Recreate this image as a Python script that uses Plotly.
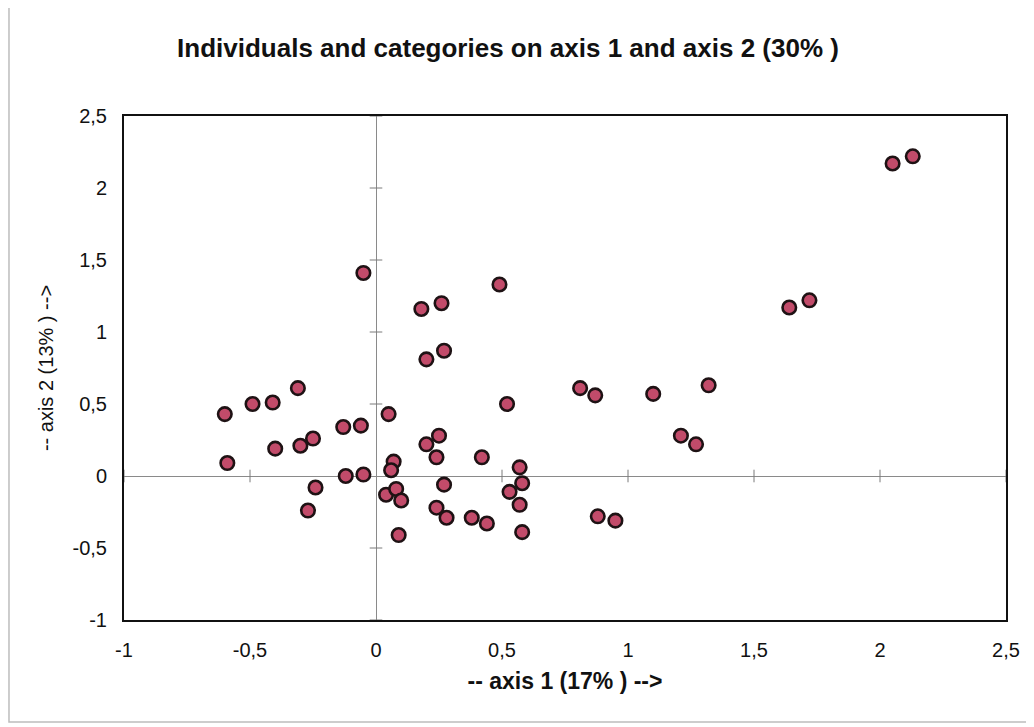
import plotly.graph_objects as go

# --- data ---
axis1 = [2.05, 2.13, -0.05, 0.18, 0.26, 0.49, 1.64, 1.72, 0.20, 0.27,
         -0.31, -0.41, -0.49, -0.60, 0.05, -0.06, -0.13, -0.25, -0.30, -0.40,
         -0.59, 0.52, 0.81, 0.87, 1.10, 1.32, 1.21, 1.27, 0.20, 0.25,
         0.24, 0.42, 0.07, 0.06, -0.12, -0.05, 0.57, 0.58, 0.53, 0.57,
         0.27, 0.04, 0.08, 0.10, -0.24, -0.27, 0.24, 0.28, 0.38, 0.44,
         0.58, 0.09, 0.88, 0.95]
axis2 = [2.17, 2.22, 1.41, 1.16, 1.20, 1.33, 1.17, 1.22, 0.81, 0.87,
         0.61, 0.51, 0.50, 0.43, 0.43, 0.35, 0.34, 0.26, 0.21, 0.19,
         0.09, 0.50, 0.61, 0.56, 0.57, 0.63, 0.28, 0.22, 0.22, 0.28,
         0.13, 0.13, 0.10, 0.04, 0.00, 0.01, 0.06, -0.05, -0.11, -0.20,
         -0.06, -0.13, -0.09, -0.17, -0.08, -0.24, -0.22, -0.29, -0.29, -0.33,
         -0.39, -0.41, -0.28, -0.31]

x_ticks = [-1, -0.5, 0, 0.5, 1, 1.5, 2, 2.5]
y_ticks = [-1, -0.5, 0, 0.5, 1, 1.5, 2, 2.5]
tick_labels = ["-1", "-0,5", "0", "0,5", "1", "1,5", "2", "2,5"]

title_text = "Individuals and categories on axis 1 and axis 2 (30% )"
x_title = "-- axis 1 (17% ) -->"
y_title = "-- axis 2 (13% ) -->"

FONT = "Liberation Sans, Arial, sans-serif"
INK = "#111111"

fig = go.Figure()

# tick marks drawn on the zero lines (Excel style crossing axes)
fig.add_trace(go.Scatter(
    x=[t for t in x_ticks if t != 0], y=[0] * (len(x_ticks) - 1),
    mode="markers", hoverinfo="skip", showlegend=False,
    marker=dict(symbol="line-ns", size=9, line=dict(color="#7a7a7a", width=1)),
))
fig.add_trace(go.Scatter(
    x=[0] * (len(y_ticks) - 1), y=[t for t in y_ticks if t != 0],
    mode="markers", hoverinfo="skip", showlegend=False,
    marker=dict(symbol="line-ew", size=9, line=dict(color="#7a7a7a", width=1)),
))

fig.add_trace(go.Scatter(
    x=axis1, y=axis2, mode="markers", showlegend=False,
    marker=dict(size=13.5, color="#c24b6a",
                line=dict(color="#1e1214", width=2.6)),
))

# the page has an 8px body margin, so the figure is sized to fill the rest
fig.update_layout(
    width=1026, height=719,
    paper_bgcolor="white", plot_bgcolor="white",
    margin=dict(l=116, r=28, t=108, b=107),
    font=dict(family=FONT, size=20, color=INK),
    title=dict(text="<b>" + title_text + "</b>", x=500 / 1026, xanchor="center",
               y=1 - 40 / 719, yanchor="middle",
               font=dict(family=FONT, size=26, color=INK)),
    showlegend=False,
    shapes=[dict(type="rect", xref="paper", yref="paper",
                 x0=-0.1304, x1=1.0238, y0=-0.2024, y1=1.2202,
                 line=dict(color="#bdbdbd", width=1.5), layer="below")],
)

fig.update_xaxes(
    range=[-1, 2.5], tickvals=x_ticks, ticktext=tick_labels,
    showgrid=False, zeroline=True, zerolinecolor="#8a8a8a", zerolinewidth=1,
    showline=True, mirror=True, linecolor=INK, linewidth=2,
    ticks="", ticklabelstandoff=11,
    tickfont=dict(family=FONT, size=20, color=INK),
    title=dict(text="<b>" + x_title + "</b>", standoff=13,
               font=dict(family=FONT, size=23, color=INK)),
)
fig.update_yaxes(
    range=[-1, 2.5], tickvals=y_ticks, ticktext=tick_labels,
    showgrid=False, zeroline=True, zerolinecolor="#8a8a8a", zerolinewidth=1,
    showline=True, mirror=True, linecolor=INK, linewidth=2,
    ticks="", ticklabelstandoff=11,
    tickfont=dict(family=FONT, size=20, color=INK),
    title=dict(text=y_title, standoff=14,
               font=dict(family=FONT, size=20, color=INK)),
)

fig.write_html("out.html")
